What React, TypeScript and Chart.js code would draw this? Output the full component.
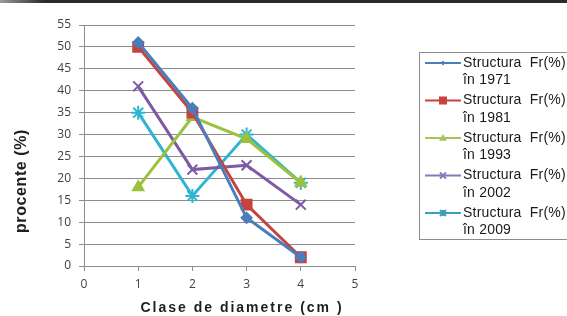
import React, { useEffect, useRef } from "react";
import { Chart, registerables } from "chart.js";

Chart.register(...registerables);

const xValues = [1, 2, 3, 4];
const seriesLabels = ["Structura  Fr(%)\nîn 1971", "Structura  Fr(%)\nîn 1981", "Structura  Fr(%)\nîn 1993", "Structura  Fr(%)\nîn 2002", "Structura  Fr(%)\nîn 2009"];
const s1971 = [51, 36, 11, 2];
const s1981 = [50, 35, 14, 2];
const s1993 = [18, 34, 29, 19];
const s2002 = [41, 22, 23, 14];
const s2009 = [35, 16, 30, 19];
const xTitle = "Clase de diametre (cm )";
const yTitle = "procente (%)";
const seriesColors = ["#4A7EBB", "#C8423D", "#9BC23C", "#7E5AA6", "#2FB4D2"];
const legendColors = ["#4A7EBB", "#C8423D", "#A8C45A", "#8A78B8", "#3AA0B8"];
const seriesMarkers = ["rectRot", "rect", "triangle", "crossRot", "star"];
const markerRadius = [5, 7, 6, 7, 7];

function drawMarker(ctx: CanvasRenderingContext2D, style: string, x: number, y: number, r: number) {
  ctx.beginPath();
  if (style === "rectRot") {
    ctx.moveTo(x, y - r); ctx.lineTo(x + r, y); ctx.lineTo(x, y + r); ctx.lineTo(x - r, y); ctx.closePath(); ctx.fill();
  } else if (style === "rect") {
    ctx.fillRect(x - r, y - r, 2 * r, 2 * r);
  } else if (style === "triangle") {
    ctx.moveTo(x, y - r); ctx.lineTo(x + r, y + r * 0.7); ctx.lineTo(x - r, y + r * 0.7); ctx.closePath(); ctx.fill();
  } else if (style === "crossRot") {
    ctx.moveTo(x - r, y - r); ctx.lineTo(x + r, y + r); ctx.moveTo(x + r, y - r); ctx.lineTo(x - r, y + r); ctx.stroke();
  } else {
    ctx.moveTo(x - r, y - r); ctx.lineTo(x + r, y + r); ctx.moveTo(x + r, y - r); ctx.lineTo(x - r, y + r);
    ctx.moveTo(x, y - r); ctx.lineTo(x, y + r); ctx.stroke();
  }
}

const legendPlugin = {
  id: "customLegend",
  afterDraw(chart: any) {
    const ctx = chart.ctx;
    ctx.save();
    // dark top band
    const g = ctx.createLinearGradient(0, 0, 567, 0);
    g.addColorStop(0, "#9a9a9a");
    g.addColorStop(0.08, "#2a2a2a");
    g.addColorStop(1, "#2a2a2a");
    ctx.fillStyle = g;
    ctx.fillRect(0, 0, 567, 3);

    // axis titles
    const area = chart.chartArea;
    ctx.fillStyle = "#1e1e1e";
    ctx.textAlign = "center";
    ctx.textBaseline = "middle";
    ctx.font = "bold 14px 'Liberation Sans', Arial, sans-serif";
    (ctx as any).letterSpacing = "2px";
    ctx.fillText(xTitle, 242, 308);
    ctx.save();
    ctx.translate(22, 181);
    ctx.rotate(-Math.PI / 2);
    ctx.font = "bold 16px 'Liberation Sans', Arial, sans-serif";
    (ctx as any).letterSpacing = "0.6px";
    ctx.fillText(yTitle, 0, 0);
    ctx.restore();
    (ctx as any).letterSpacing = "0px";

    // legend box
    ctx.strokeStyle = "#8c8c8c";
    ctx.lineWidth = 1;
    ctx.strokeRect(419.5, 52.5, 160, 187);
    const sets = chart.data.datasets;
    sets.forEach((ds: any, i: number) => {
      const y0 = 63 + i * 37.5;
      const c = legendColors[i];
      ctx.strokeStyle = c;
      ctx.fillStyle = c;
      ctx.lineWidth = 2;
      ctx.beginPath();
      ctx.moveTo(425, y0);
      ctx.lineTo(461, y0);
      ctx.stroke();
      const r = [2.5, 4, 4, 3, 3][i];
      drawMarker(ctx, ds.pointStyle, 443, y0, r);
      ctx.fillStyle = "#1a1a1a";
      ctx.font = "14px 'Liberation Sans', Arial, sans-serif";
      (ctx as any).letterSpacing = "0.2px";
      ctx.textBaseline = "middle";
      ctx.textAlign = "left";
      const lines = ds.label.split("\n");
      ctx.fillText(lines[0], 463, y0);
      ctx.fillText(lines[1], 463, y0 + 17.5);
    });
    ctx.restore();
  },
};

export default function App() {
  const ref = useRef<HTMLCanvasElement>(null);
  useEffect(() => {
    document.body.style.margin = "0";
    const all = [s1971, s1981, s1993, s2002, s2009];
    const chart = new Chart(ref.current!, {
      type: "line",
      data: {
        datasets: all.map((arr, i) => ({
          label: seriesLabels[i],
          data: arr.map((v, j) => ({ x: xValues[j], y: v })),
          borderColor: seriesColors[i],
          backgroundColor: seriesColors[i],
          pointStyle: seriesMarkers[i] as any,
          pointRadius: markerRadius[i],
          pointBorderWidth: 2,
          borderWidth: 3,
          tension: 0,
        })),
      },
      options: {
        animation: false,
        responsive: false,
        devicePixelRatio: 1,
        layout: { padding: { top: 25, right: 212, left: 0, bottom: 0 } },
        plugins: { legend: { display: false }, tooltip: { enabled: false } },
        scales: {
          x: {
            type: "linear",
            min: 0,
            max: 5,
            ticks: { stepSize: 1, color: "#404040", font: { family: "'Open Sans', sans-serif", size: 12 }, padding: 6 },
            grid: { display: true, drawOnChartArea: false, tickLength: 5, color: "#8c8c8c" },
            border: { color: "#8c8c8c" },
            afterFit: (s: any) => { s.height = 50; },
          },
          y: {
            min: 0,
            max: 55,
            ticks: { stepSize: 5, color: "#404040", font: { family: "'Open Sans', sans-serif", size: 12 }, padding: 8 },
            grid: { color: "#8c8c8c", tickLength: 5 },
            border: { color: "#8c8c8c" },
            afterFit: (s: any) => { s.width = 84; },
          },
        },
      },
      plugins: [legendPlugin],
    });
    return () => chart.destroy();
  }, []);
  return (
    <div style={{ position: "fixed", left: 0, top: 0, width: 567, height: 316, background: "#fff" }}>
      <canvas ref={ref} width={567} height={316} />
    </div>
  );
}
